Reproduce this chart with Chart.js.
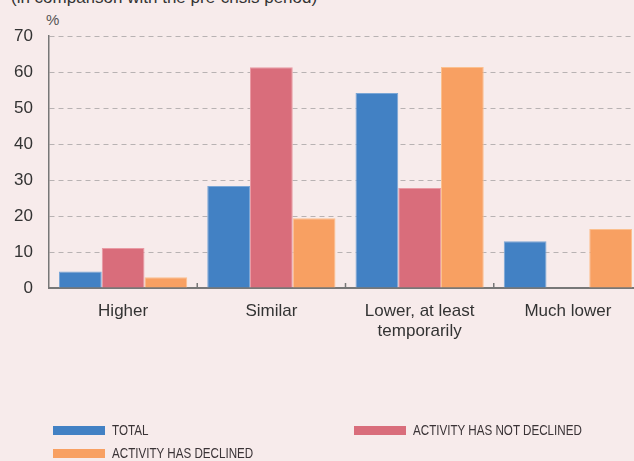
<!DOCTYPE html>
<html>
<head>
<meta charset="utf-8">
<script src="https://cdn.jsdelivr.net/npm/chart.js@4.4.1/dist/chart.umd.min.js"></script>
<style>
  html, body { margin: 0; padding: 0; background: #f7ebeb; overflow: hidden; }
  body { width: 634px; height: 461px; position: relative; font-family: 'Liberation Sans', Arial, sans-serif; color: #333; }
  .title { position: absolute; left: 11px; top: -11px; font-size: 17px; line-height: 17px; white-space: nowrap; color: #333; }
  .unit { position: absolute; left: 46px; top: 12px; font-size: 15px; line-height: 15px; color: #555; }
  .wrap { position: absolute; left: 0; top: 0; width: 642px; height: 345px; }
  .legend { position: absolute; left: 0; top: 0; width: 634px; height: 461px; pointer-events: none; }
  .legend .item { position: absolute; display: flex; align-items: center; height: 16px; }
  .legend .sw { width: 52px; height: 9px; margin-right: 7px; flex: none; }
  .legend .lbl { font-family: 'Liberation Sans', Arial, sans-serif; font-size: 15.5px; color: #3a3336; white-space: nowrap; display: inline-block; transform: scaleX(0.75); transform-origin: left center; }
</style>
</head>
<body>
<div class="title">(in comparison with the pre-crisis period)</div>
<div class="unit">%</div>
<div class="wrap"><canvas id="chart"></canvas></div>
<div class="legend" id="legend"></div>
<script>
// categories and values
const categories = ['Higher', 'Similar', ['Lower, at least', 'temporarily'], 'Much lower'];
const seriesNames = ['TOTAL', 'ACTIVITY HAS NOT DECLINED', 'ACTIVITY HAS DECLINED'];
const totalValues = [4.6, 28.3, 54.2, 13.0];
const notDeclinedValues = [11.1, 61.3, 27.8, 0];
const declinedValues = [3.0, 19.4, 61.4, 16.4];
const yTicks = [0, 10, 20, 30, 40, 50, 60, 70];

const colors = ['#4281c4', '#d96d7b', '#f8a062'];
const edgeColors = ['#7aa6d6', '#e99aa4', '#fbc08f'];

var PLOT_BOTTOM = 288;
var PLOT_LEFT = 49;

// small upward tick marks between categories
var catTicks = {
    id: 'catTicks',
    afterDraw: function(chart) {
        var x = chart.scales.x, ctx = chart.ctx;
        ctx.save();
        ctx.strokeStyle = '#777';
        ctx.lineWidth = 1.5;
        for (var i = 1; i < categories.length; i++) {
            var px = (x.getPixelForValue(i - 1) + x.getPixelForValue(i)) / 2;
            ctx.beginPath();
            ctx.moveTo(px, x.top - 5);
            ctx.lineTo(px, x.top);
            ctx.stroke();
        }
        ctx.restore();
    }
};

var datasets = [totalValues, notDeclinedValues, declinedValues].map(function(vals, i) {
    return {
        label: seriesNames[i],
        data: vals,
        backgroundColor: colors[i],
        borderColor: edgeColors[i],
        borderWidth: 1,
        borderSkipped: 'start',
        barPercentage: 1.0,
        categoryPercentage: 0.865
    };
});

new Chart(document.getElementById('chart'), {
    type: 'bar',
    data: { labels: categories, datasets: datasets },
    plugins: [catTicks],
    options: {
        responsive: true,
        maintainAspectRatio: false,
        animation: false,
        layout: { padding: { top: 36, right: 0, left: 0, bottom: 0 } },
        plugins: { legend: { display: false }, tooltip: { enabled: false } },
        scales: {
            x: {
                grid: { display: false },
                border: { display: true, color: '#777', width: 2 },
                ticks: { color: '#333', font: { size: 17, family: "'Liberation Sans', Arial, sans-serif" }, padding: 5, maxRotation: 0, autoSkip: false },
                afterFit: function(scale) { scale.height = 345 - PLOT_BOTTOM; }
            },
            y: {
                min: 0,
                max: 70,
                afterBuildTicks: function(scale) { scale.ticks = yTicks.map(function(v) { return { value: v }; }); },
                grid: { color: '#b8b2b3', lineWidth: 1, drawTicks: false },
                border: { display: true, color: '#777', width: 1.5, dash: [5, 4] },
                ticks: { color: '#333', font: { size: 17, family: "'Liberation Sans', Arial, sans-serif" }, padding: 16 },
                afterFit: function(scale) { scale.width = PLOT_LEFT; }
            }
        }
    }
});

// legend built from the same series names and colours
var legendPos = [[53, 422], [354, 422], [53, 445]];
var legend = document.getElementById('legend');
seriesNames.forEach(function(name, i) {
    var item = document.createElement('div');
    item.className = 'item';
    item.style.left = legendPos[i][0] + 'px';
    item.style.top = legendPos[i][1] + 'px';
    item.innerHTML = '<span class="sw" style="background:' + colors[i] + '"></span><span class="lbl">' + name + '</span>';
    legend.appendChild(item);
});
</script>
</body>
</html>
